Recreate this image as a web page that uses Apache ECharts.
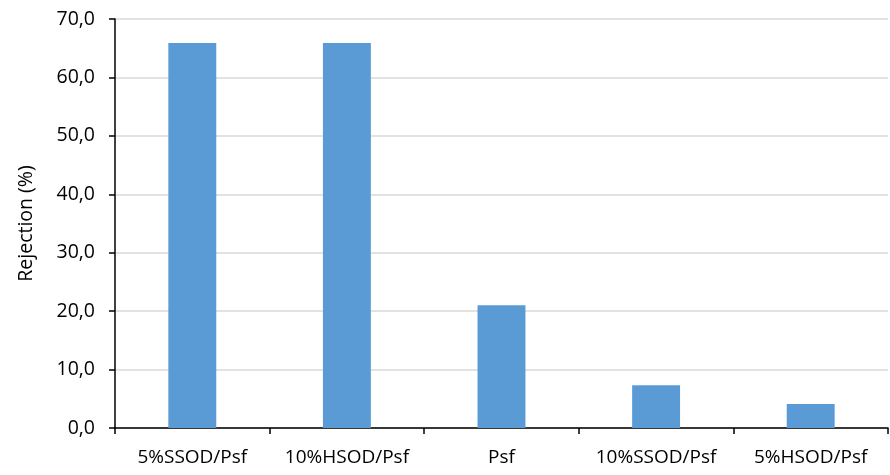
<!DOCTYPE html>
<html>
<head>
<meta charset="utf-8">
<script src="https://cdn.jsdelivr.net/npm/echarts@6/dist/echarts.min.js"></script>
<style>
  html, body { margin: 0; padding: 0; background: #fff; }
  #chart { width: 890px; height: 475px; }
</style>
</head>
<body>
<div id="chart"></div>
<script>
const categories = ['5%SSOD/Psf', '10%HSOD/Psf', 'Psf', '10%SSOD/Psf', '5%HSOD/Psf'];
const rejection = [65.9, 65.9, 21.0, 7.3, 4.1];
const yTicks = [0, 10, 20, 30, 40, 50, 60, 70];

const chart = echarts.init(document.getElementById('chart'));
const font = 'Open Sans, Liberation Sans, sans-serif';

chart.setOption({
    animation: false,
    grid: { left: 115, right: 2, top: 19, bottom: 47, containLabel: false },
    xAxis: {
        type: 'category',
        data: categories,
        axisLine: { lineStyle: { color: '#000', width: 1.5 } },
        axisTick: { show: true, interval: 0, length: 6, lineStyle: { color: '#000', width: 1.5 } },
        axisLabel: { color: '#000', fontSize: 19, fontFamily: font, margin: 20, interval: 0, hideOverlap: false }
    },
    yAxis: {
        type: 'value',
        min: yTicks[0],
        max: yTicks[yTicks.length - 1],
        interval: 10,
        name: 'Rejection (%)',
        nameLocation: 'middle',
        nameGap: 79,
        nameRotate: 90,
        nameTextStyle: { color: '#000', fontSize: 19.5, fontFamily: font },
        axisLine: { show: true, lineStyle: { color: '#000', width: 1.5 } },
        axisTick: { show: true, length: 6, lineStyle: { color: '#000', width: 1.5 } },
        axisLabel: {
            color: '#000', fontSize: 19.5, fontFamily: font, margin: 20,
            formatter: v => v.toFixed(1).replace('.', ',')
        },
        splitLine: { lineStyle: { color: '#d9d9d9', width: 1.5 } }
    },
    series: [{
        type: 'bar',
        data: rejection,
        barWidth: '31%',
        itemStyle: { color: '#5b9bd5' }
    }]
});
</script>
</body>
</html>
